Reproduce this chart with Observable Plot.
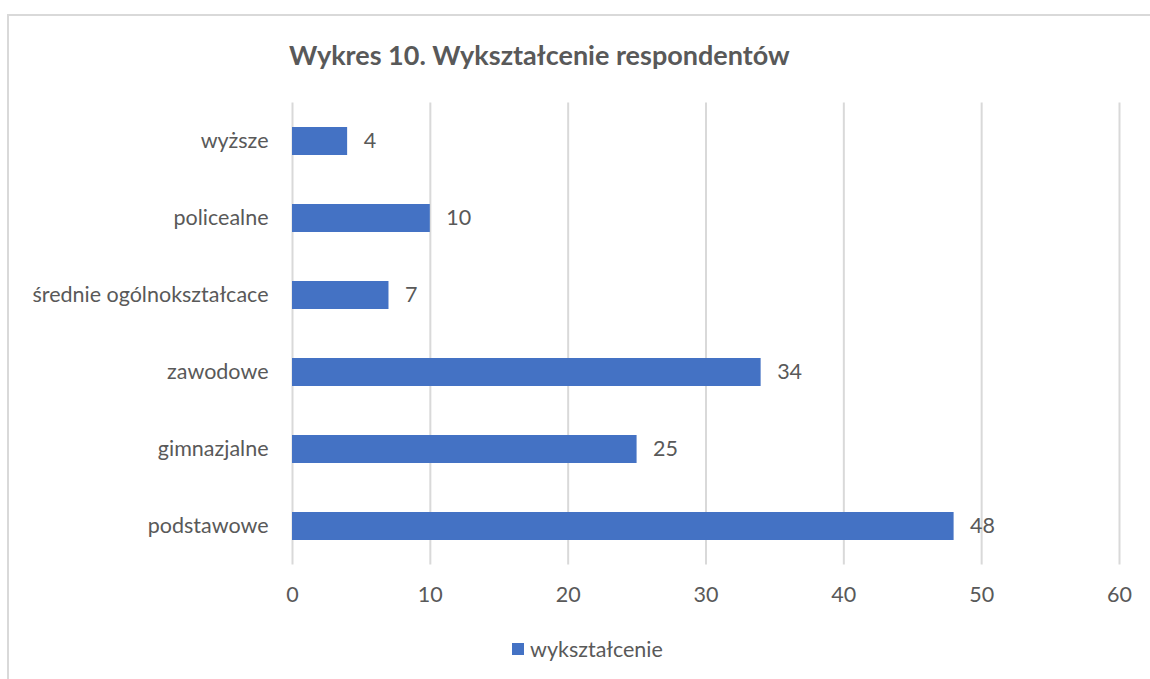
<!DOCTYPE html>
<html><head><meta charset="utf-8">
<script src="https://cdn.jsdelivr.net/npm/d3@7"></script>
<script src="https://cdn.jsdelivr.net/npm/@observablehq/plot@0.6"></script>
<style>
body{margin:0;width:1150px;height:679px;overflow:hidden;background:#fff;font-family:Lato,"Open Sans",sans-serif;position:relative}
#frame{position:absolute;left:7px;top:14px;width:1200px;height:720px;border:2px solid #d9d9d9;box-sizing:border-box}
#title{position:absolute;left:289px;top:39px;font-weight:bold;font-size:27px;line-height:32px;color:#595959;white-space:nowrap}
#chart{position:absolute;left:0;top:0}
#legend{position:absolute;left:512px;top:636px;font-size:21.5px;line-height:26px;color:#595959;display:flex;align-items:center;white-space:nowrap}
#legend span.sw{display:inline-block;width:12px;height:12px;background:#4472C4;margin-right:6px}
</style></head>
<body>
<div id="frame"></div>
<div id="title">Wykres 10. Wykształcenie respondentów</div>
<div id="chart"></div>
<div id="legend"><span class="sw"></span><span id="legtext"></span></div>
<script>
const categories = ["wyższe", "policealne", "średnie ogólnokształcace", "zawodowe", "gimnazjalne", "podstawowe"];
const values = [4, 10, 7, 34, 25, 48];
const xTicks = [0, 10, 20, 30, 40, 50, 60];
const seriesName = "wykształcenie";

const data = categories.map((c, i) => ({category: c, value: values[i]}));
document.getElementById("legtext").textContent = seriesName;

const H = 620;
const FS = 21.5;
const chart = Plot.plot({
  width: 1150,
  height: H,
  marginLeft: 292,
  marginRight: 31,
  marginTop: 102.5,
  marginBottom: H - 564.5,
  style: {fontFamily: "Lato, 'Open Sans', sans-serif", fontSize: FS + "px", color: "#595959", background: "transparent"},
  x: {domain: [0, 60], label: null},
  y: {domain: categories, paddingInner: 0.636, paddingOuter: 0.318, label: null},
  marks: [
    Plot.gridX(xTicks, {stroke: "#d9d9d9", strokeOpacity: 1, strokeWidth: 2}),
    Plot.barX(data, {x: "value", y: "category", fill: "#4472C4"}),
    Plot.text(data, {x: "value", y: "category", text: d => String(d.value), dx: 16, textAnchor: "start", fill: "#595959", fontSize: FS}),
    Plot.axisX({ticks: xTicks, tickSize: 0, tickPadding: 22, fontSize: FS, fill: "#595959", label: null}),
    Plot.axisY({tickSize: 0, tickPadding: 24, fontSize: FS, fill: "#595959", label: null})
  ]
});
document.getElementById("chart").appendChild(chart);
</script>
</body></html>
